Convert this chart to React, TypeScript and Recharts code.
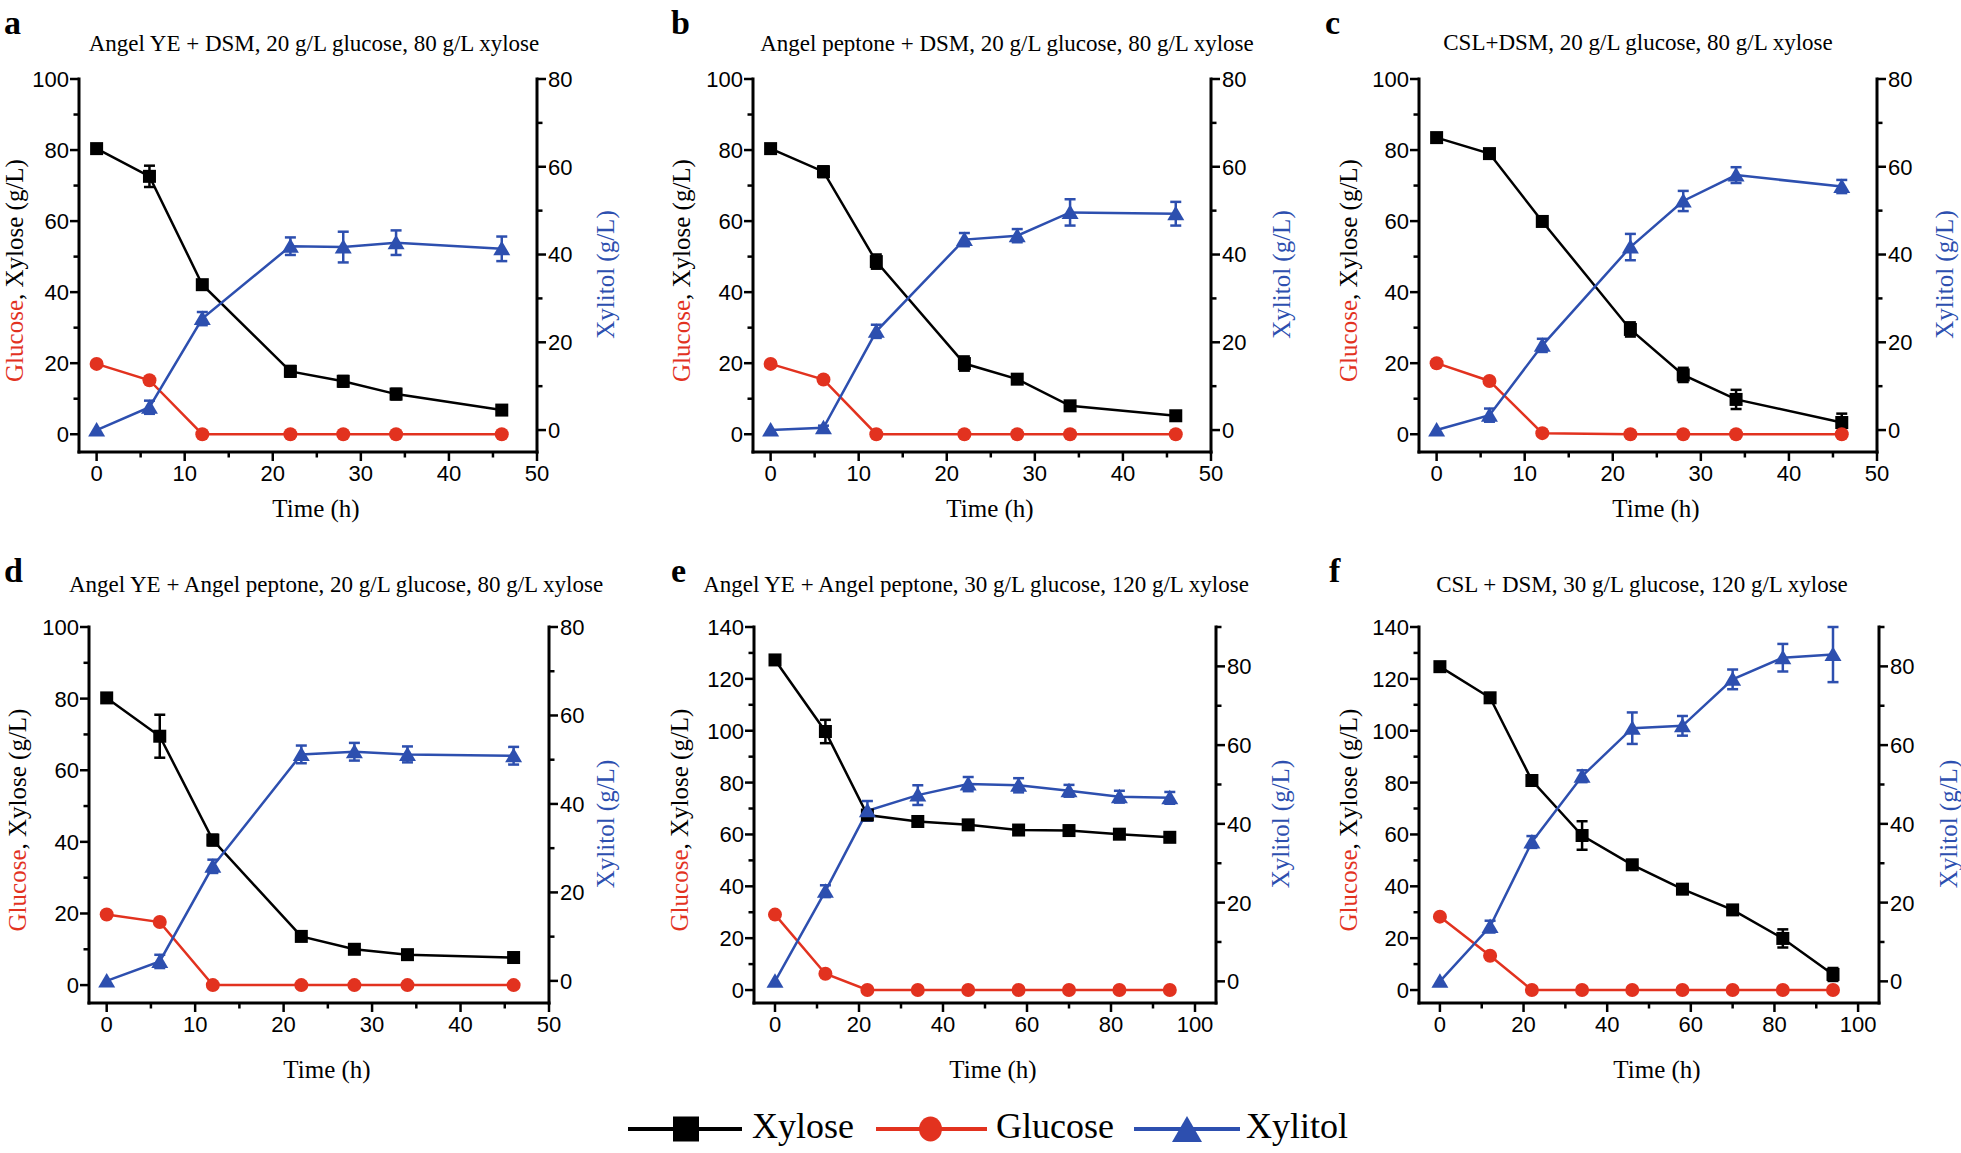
import React from 'react';
import { LineChart, Line, XAxis, YAxis, ErrorBar } from 'recharts';

const RED = '#E2321F';
const BLUE = '#2D4FAF';
const BLACK = '#000000';
const SANS = '"Liberation Sans", Arial, sans-serif';
const SERIF = '"Liberation Serif", "Times New Roman", serif';

// ---------- data ----------
const timeShort = [0, 6, 12, 22, 28, 34, 46];
const timeLong = [0, 12, 22, 34, 46, 58, 70, 82, 94];

// a
const xyloseA = [80.4, 72.6, 42.1, 17.7, 14.9, 11.3, 6.8];
const xyloseErrA = [0.5, 3, 0.8, 1.5, 1.5, 1.5, 1];
const glucoseA = [19.8, 15.2, 0, 0, 0, 0, 0];
const xylitolA = [0, 5.2, 25.4, 41.9, 41.7, 42.7, 41.3];
const xylitolErrA = [null, 1.5, 1.5, 2, 3.5, 2.8, 2.8];
// b
const xyloseB = [80.4, 73.9, 48.6, 19.9, 15.5, 8.0, 5.2];
const xyloseErrB = [0.5, 1.5, 2, 2, 1, 1, 0.5];
const glucoseB = [19.8, 15.4, 0, 0, 0, 0, 0];
const xylitolB = [0, 0.5, 22.5, 43.4, 44.3, 49.6, 49.3];
const xylitolErrB = [null, 0.5, 1.5, 1.5, 1.5, 3, 2.7];
// c
const xyloseC = [83.5, 79.0, 59.9, 29.5, 16.7, 9.8, 3.3];
const xyloseErrC = [0.8, 0.8, 1, 2, 2, 2.7, 2.5];
const glucoseC = [20.0, 15.0, 0.3, 0, 0, 0, 0];
const xylitolC = [0, 3.4, 19.3, 41.7, 52.2, 58.1, 55.5];
const xylitolErrC = [null, 1.5, 1.5, 3, 2.3, 1.8, 1.5];
// d
const xyloseD = [80.2, 69.5, 40.5, 13.6, 10.0, 8.5, 7.7];
const xyloseErrD = [0.5, 6, 1.5, 0.8, 1, 0.8, 0.5];
const glucoseD = [19.7, 17.6, 0, 0, 0, 0, 0];
const xylitolD = [0, 4.4, 25.9, 51.2, 51.8, 51.2, 50.9];
const xylitolErrD = [null, 1.5, 1.5, 2, 2, 1.8, 2];
// e
const xyloseE = [127.3, 99.7, 67.5, 65.0, 63.7, 61.7, 61.5, 60.1, 58.9];
const xyloseErrE = [1, 4.5, 1, 1, 1, 1, 1, 1, 1];
const glucoseE = [29.1, 6.3, 0, 0, 0, 0, 0, 0, 0];
const xylitolE = [0, 22.9, 43.3, 47.3, 50.1, 49.8, 48.4, 46.9, 46.6];
const xylitolErrE = [null, 1.5, 2.5, 2.5, 1.8, 1.8, 1.5, 1.5, 1.5];
// f
const xyloseF = [124.7, 112.7, 80.8, 59.6, 48.3, 38.9, 30.9, 19.9, 6.0];
const xyloseErrF = [0.8, 1, 1.5, 5.5, 1, 1, 1.5, 3.5, 2.5];
const glucoseF = [28.3, 13.2, 0, 0, 0, 0, 0, 0, 0];
const xylitolF = [0, 13.9, 35.4, 52.1, 64.3, 64.9, 76.7, 82.2, 83.0];
const xylitolErrF = [null, 1.5, 1.5, 1.5, 4, 2.5, 2.5, 3.5, 7];

// tick lists
const xTicks50 = [0, 5, 10, 15, 20, 25, 30, 35, 40, 45, 50];
const xTicks100 = [0, 10, 20, 30, 40, 50, 60, 70, 80, 90, 100];
const yTicks100 = [0, 10, 20, 30, 40, 50, 60, 70, 80, 90, 100];
const yTicks140 = [0, 10, 20, 30, 40, 50, 60, 70, 80, 90, 100, 110, 120, 130, 140];
const yTicks80 = [0, 10, 20, 30, 40, 50, 60, 70, 80];
const yTicks90 = [0, 10, 20, 30, 40, 50, 60, 70, 80, 90];

const titles = [
  'Angel YE + DSM, 20 g/L glucose, 80 g/L xylose',
  'Angel peptone + DSM, 20 g/L glucose, 80 g/L xylose',
  'CSL+DSM, 20 g/L glucose, 80 g/L xylose',
  'Angel YE + Angel peptone, 20 g/L glucose, 80 g/L xylose',
  'Angel YE + Angel peptone, 30 g/L glucose, 120 g/L xylose',
  'CSL + DSM, 30 g/L glucose, 120 g/L xylose',
];
const letters = ['a', 'b', 'c', 'd', 'e', 'f'];

function buildRows(t, x, xe, g, xl, xle) {
  return t.map((tt, i) => ({ t: tt, xylose: x[i], xe: xe[i], glucose: g[i], xylitol: xl[i], xle: xle[i] }));
}

const TS = 9;
const TM = 2;

function isMajor(v, step) {
  return Math.abs(v / step - Math.round(v / step)) < 1e-6;
}

function makeLeftTick(step) {
  return (p) => {
    const ax = p.x + TS + TM;
    const v = p.payload.value;
    const major = isMajor(v, step);
    return (
      <g key={`lt${p.index}`}>
        <line x1={ax} x2={ax - (major ? 9 : 5.5)} y1={p.y} y2={p.y} stroke="#000" strokeWidth={2.5} />
        {major && (
          <text x={ax - 10} y={p.y} dy="0.36em" textAnchor="end" fontFamily={SANS} fontSize={22} fill="#000">
            {v}
          </text>
        )}
      </g>
    );
  };
}
function makeRightTick(step) {
  return (p) => {
    const ax = p.x - TS - TM;
    const v = p.payload.value;
    const major = isMajor(v, step) && v <= 80;
    return (
      <g key={`rt${p.index}`}>
        <line x1={ax} x2={ax + (major ? 9 : 5.5)} y1={p.y} y2={p.y} stroke="#000" strokeWidth={2.5} />
        {major && (
          <text x={ax + 11} y={p.y} dy="0.36em" textAnchor="start" fontFamily={SANS} fontSize={22} fill="#000">
            {v}
          </text>
        )}
      </g>
    );
  };
}
function makeBottomTick(step) {
  return (p) => {
    const ay = p.y - TS - TM;
    const v = p.payload.value;
    const major = isMajor(v, step);
    return (
      <g key={`bt${p.index}`}>
        <line x1={p.x} x2={p.x} y1={ay} y2={ay + (major ? 9 : 5.5)} stroke="#000" strokeWidth={2.5} />
        {major && (
          <text x={p.x} y={ay + 13} dy="0.72em" textAnchor="middle" fontFamily={SANS} fontSize={22} fill="#000">
            {v}
          </text>
        )}
      </g>
    );
  };
}

const squareDot = (p) => {
  if (p.cx == null || p.cy == null) return <g key={`s${p.index}`} />;
  return <rect key={`s${p.index}`} x={p.cx - 6.5} y={p.cy - 6.5} width={13} height={13} fill={BLACK} />;
};
const circleDot = (p) => {
  if (p.cx == null || p.cy == null) return <g key={`c${p.index}`} />;
  return <circle key={`c${p.index}`} cx={p.cx} cy={p.cy} r={7} fill={RED} />;
};
const triDot = (p) => {
  if (p.cx == null || p.cy == null) return <g key={`t${p.index}`} />;
  const { cx, cy } = p;
  return <polygon key={`t${p.index}`} points={`${cx},${cy - 8} ${cx - 8.5},${cy + 6.5} ${cx + 8.5},${cy + 6.5}`} fill={BLUE} />;
};

const AXIS = { stroke: '#000', strokeWidth: 3, strokeLinecap: 'square' };

function Panel({ plot, rows, xDomain, xTicks, xStep, yL, yLTicks, yR, yRTicks }) {
  const ML = 90;
  const MR = 90;
  const MT = 25;
  const XB = 80;
  const W = plot.w + ML + MR;
  const H = plot.h + MT + XB;
  return (
    <div style={{ position: 'absolute', left: plot.x - ML, top: plot.y - MT, width: W, height: H }}>
      <LineChart width={W} height={H} data={rows} margin={{ top: MT, right: 0, bottom: 0, left: 0 }}>
        <XAxis xAxisId="top" orientation="top" type="number" domain={[0, 1]} height={0} tick={false} tickLine={false} axisLine={AXIS} />
        <XAxis
          xAxisId="b"
          dataKey="t"
          type="number"
          domain={xDomain}
          ticks={xTicks}
          interval={0}
          height={XB}
          tickSize={TS}
          tickMargin={TM}
          tickLine={false}
          tick={makeBottomTick(xStep)}
          axisLine={AXIS}
          allowDataOverflow
        />
        <YAxis
          yAxisId="l"
          type="number"
          domain={yL}
          ticks={yLTicks}
          interval={0}
          width={ML}
          tickSize={TS}
          tickMargin={TM}
          tickLine={false}
          tick={makeLeftTick(20)}
          axisLine={AXIS}
          allowDataOverflow
        />
        <YAxis
          yAxisId="r"
          orientation="right"
          type="number"
          domain={yR}
          ticks={yRTicks}
          interval={0}
          width={MR}
          tickSize={TS}
          tickMargin={TM}
          tickLine={false}
          tick={makeRightTick(20)}
          axisLine={AXIS}
          allowDataOverflow
        />
        <Line xAxisId="b" yAxisId="l" dataKey="xylose" stroke={BLACK} strokeWidth={2.5} dot={squareDot} activeDot={false} isAnimationActive={false}>
          <ErrorBar dataKey="xe" width={5.5} strokeWidth={2.5} stroke={BLACK} direction="y" />
        </Line>
        <Line xAxisId="b" yAxisId="l" dataKey="glucose" stroke={RED} strokeWidth={2.5} dot={circleDot} activeDot={false} isAnimationActive={false} />
        <Line xAxisId="b" yAxisId="r" dataKey="xylitol" stroke={BLUE} strokeWidth={2.5} dot={triDot} activeDot={false} isAnimationActive={false}>
          <ErrorBar dataKey="xle" width={5.5} strokeWidth={2.5} stroke={BLUE} direction="y" />
        </Line>
      </LineChart>
    </div>
  );
}

const panels = [
  {
    plot: { x: 79, y: 79, w: 458, h: 373 },
    rows: buildRows(timeShort, xyloseA, xyloseErrA, glucoseA, xylitolA, xylitolErrA),
    xDomain: [-2, 50], xTicks: xTicks50, xStep: 10, yL: [-5, 100], yLTicks: yTicks100, yR: [-5, 80], yRTicks: yTicks80,
    title: { x: 314, y: 51 }, letter: { x: 4, y: 34 }, lOff: 65, rOff: 68,
  },
  {
    plot: { x: 753, y: 79, w: 458, h: 373 },
    rows: buildRows(timeShort, xyloseB, xyloseErrB, glucoseB, xylitolB, xylitolErrB),
    xDomain: [-2, 50], xTicks: xTicks50, xStep: 10, yL: [-5, 100], yLTicks: yTicks100, yR: [-5, 80], yRTicks: yTicks80,
    title: { x: 1007, y: 51 }, letter: { x: 671, y: 34 }, lOff: 72, rOff: 70,
  },
  {
    plot: { x: 1419, y: 79, w: 458, h: 373 },
    rows: buildRows(timeShort, xyloseC, xyloseErrC, glucoseC, xylitolC, xylitolErrC),
    xDomain: [-2, 50], xTicks: xTicks50, xStep: 10, yL: [-5, 100], yLTicks: yTicks100, yR: [-5, 80], yRTicks: yTicks80,
    title: { x: 1638, y: 50 }, letter: { x: 1325, y: 34 }, lOff: 71, rOff: 67,
  },
  {
    plot: { x: 89, y: 627, w: 460, h: 376 },
    rows: buildRows(timeShort, xyloseD, xyloseErrD, glucoseD, xylitolD, xylitolErrD),
    xDomain: [-2, 50], xTicks: xTicks50, xStep: 10, yL: [-5, 100], yLTicks: yTicks100, yR: [-5, 80], yRTicks: yTicks80,
    title: { x: 336, y: 592 }, letter: { x: 4, y: 582 }, lOff: 72, rOff: 56,
  },
  {
    plot: { x: 754, y: 627, w: 462, h: 376 },
    rows: buildRows(timeLong, xyloseE, xyloseErrE, glucoseE, xylitolE, xylitolErrE),
    xDomain: [-5, 105], xTicks: xTicks100, xStep: 20, yL: [-5, 140], yLTicks: yTicks140, yR: [-5.5, 90], yRTicks: yTicks90,
    title: { x: 976, y: 592 }, letter: { x: 671, y: 582 }, lOff: 75, rOff: 64,
  },
  {
    plot: { x: 1419, y: 627, w: 460, h: 376 },
    rows: buildRows(timeLong, xyloseF, xyloseErrF, glucoseF, xylitolF, xylitolErrF),
    xDomain: [-5, 105], xTicks: xTicks100, xStep: 20, yL: [-5, 140], yLTicks: yTicks140, yR: [-5.5, 90], yRTicks: yTicks90,
    title: { x: 1642, y: 592 }, letter: { x: 1329, y: 582 }, lOff: 71, rOff: 69,
  },
];

function Overlay() {
  return (
    <svg width={1961} height={1153} style={{ position: 'absolute', left: 0, top: 0, pointerEvents: 'none' }}>
      {panels.map((p, i) => {
        const cx = p.plot.x + p.plot.w / 2;
        const cy = p.plot.y + p.plot.h / 2;
        const lx = p.plot.x - p.lOff;
        const rx = p.plot.x + p.plot.w + p.rOff;
        const xlY = p.plot.y + p.plot.h + (i < 3 ? 65 : 75);
        return (
          <g key={`ov${i}`}>
            <text x={p.letter.x} y={p.letter.y} fontFamily={SERIF} fontWeight="bold" fontSize={34} fill="#000">
              {letters[i]}
            </text>
            <text x={p.title.x} y={p.title.y} textAnchor="middle" fontFamily={SERIF} fontSize={23} fill="#000">
              {titles[i]}
            </text>
            <text transform={`translate(${lx},${cy + 5}) rotate(-90)`} textAnchor="middle" dy="0.35em" fontFamily={SERIF} fontSize={25}>
              <tspan fill={RED}>Glucose</tspan>
              <tspan fill="#000">, Xylose (g/L)</tspan>
            </text>
            <text transform={`translate(${rx},${cy + 9}) rotate(-90)`} textAnchor="middle" dy="0.35em" fontFamily={SERIF} fontSize={25} fill={BLUE}>
              Xylitol (g/L)
            </text>
            <text x={cx + 8} y={xlY} textAnchor="middle" fontFamily={SERIF} fontSize={25} fill="#000">
              Time (h)
            </text>
          </g>
        );
      })}
      {/* legend */}
      <line x1={628} x2={742} y1={1129} y2={1129} stroke={BLACK} strokeWidth={4} />
      <rect x={673} y={1116.5} width={26} height={25} fill={BLACK} />
      <text x={752} y={1138} fontFamily={SERIF} fontSize={36} fill="#000">Xylose</text>
      <line x1={876} x2={987} y1={1129} y2={1129} stroke={RED} strokeWidth={4} />
      <ellipse cx={930.5} cy={1129} rx={11.5} ry={12.5} fill={RED} />
      <text x={996} y={1138} fontFamily={SERIF} fontSize={36} fill="#000">Glucose</text>
      <line x1={1134} x2={1240} y1={1129} y2={1129} stroke={BLUE} strokeWidth={4} />
      <polygon points="1187,1116 1172,1142 1202,1142" fill={BLUE} />
      <text x={1246} y={1138} fontFamily={SERIF} fontSize={36} fill="#000">Xylitol</text>
    </svg>
  );
}

export default function App() {
  return (
    <div style={{ position: 'absolute', left: 0, top: 0, width: 1961, height: 1153, background: '#fff', overflow: 'hidden' }}>
      {panels.map((p, i) => (
        <Panel key={`p${i}`} {...p} />
      ))}
      <Overlay />
    </div>
  );
}
